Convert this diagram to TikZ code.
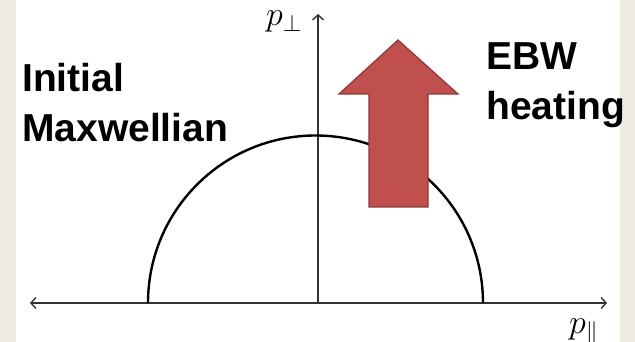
\RequirePackage{fix-cm}
\documentclass[tikz,border=0pt]{standalone}
\usepackage{fontspec}
\setmainfont{Liberation Sans}
\usetikzlibrary{arrows.meta}
\definecolor{beige}{HTML}{EEECE1}
\definecolor{arrowred}{HTML}{C0504D}
\definecolor{arrowedge}{HTML}{8C3836}
\definecolor{axisgray}{HTML}{333333}
\begin{document}
\begin{tikzpicture}[x=1pt,y=-1pt,
  axis/.style={draw=axisgray, line width=1.4pt},
  barb/.tip={Straight Barb[length=5pt,width=11pt,line width=1.4pt]},
  textlabel/.style={font=\fontsize{39}{50}\selectfont\bfseries, align=left, anchor=base west, inner sep=0pt},
  plabel/.style={font=\fontsize{34}{34}\selectfont, anchor=base west, inner sep=0pt},
  maxw/.style={draw=black, line width=2.4pt},
  heatarrow/.style={fill=arrowred, draw=arrowedge, line width=1.2pt, line join=miter}]
\fill[white] (0,0) rectangle (635,342);
\fill[beige] (0,0) rectangle (16,342);
\fill[beige] (620,0) rectangle (635,342);
\useasboundingbox (0,0) rectangle (635,342);
\coordinate (o) at (318,303);
\coordinate (xl) at (30,303);
\coordinate (xr) at (607,303);
\coordinate (yt) at (318,14);
\draw[axis, barb-barb] (xl) -- (xr);
\draw[axis, -barb] (o) -- (yt);
\draw[maxw] (148,303) arc[start angle=180, end angle=360, radius=167.5];
\filldraw[heatarrow] (398,40) -- (458,94) -- (428,94) -- (428,207) -- (369,207) -- (369,94) -- (339,94) -- cycle;
\node[textlabel] (init) at (22,142) {Initial\\Maxwellian};
\node[textlabel] (ebw) at (486,120) {EBW\\heating};
\node[plabel] (pperp) at (266,26) {$p_\perp$};
\node[plabel] (ppar) at (569,333) {$p_\parallel$};
\end{tikzpicture}
\end{document}
